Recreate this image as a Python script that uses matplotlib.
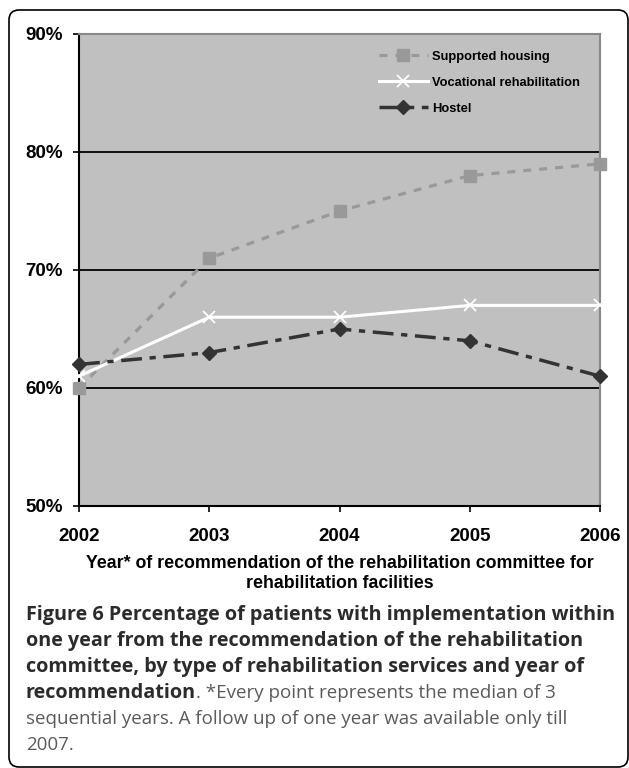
import matplotlib

matplotlib.use("Agg")
import matplotlib.pyplot as plt
from matplotlib.patches import FancyBboxPatch

# -----------------------------
# Data
# -----------------------------
years = [2002, 2003, 2004, 2005, 2006]
supported_housing = [60, 71, 75, 78, 79]
vocational_rehab = [61, 66, 66, 67, 67]
hostel = [62, 63, 65, 64, 61]
y_ticks = [50, 60, 70, 80, 90]
y_tick_labels = ["50%", "60%", "70%", "80%", "90%"]

x_label = ("Year* of recommendation of the rehabilitation committee for\n"
           "rehabilitation facilities")
caption_bold = [
    "Figure 6 Percentage of patients with implementation within",
    "one year from the recommendation of the rehabilitation",
    "committee, by type of rehabilitation services and year of",
]
caption_mixed = ("recommendation", ". *Every point represents the median of 3")
caption_plain = [
    "sequential years. A follow up of one year was available only till",
    "2007.",
]

W, H = 629, 768
fig = plt.figure(figsize=(W / 100, H / 100), dpi=100)
fig.patch.set_facecolor("white")

# -----------------------------
# Plot area
# -----------------------------
ax = fig.add_axes([79 / W, 1 - 506 / H, 521 / W, 472 / H])
ax.set_facecolor("#c0c0c0")

ax.plot(years, supported_housing, color="#999999", lw=2.3,
        ls=(0, (2.5, 2.5)), marker="s", ms=8, mec="#999999",
        label="Supported housing", clip_on=False, zorder=3)
ax.plot(years, vocational_rehab, color="white", lw=2.2, ls="-",
        marker="x", ms=8, mew=1.3, label="Vocational rehabilitation",
        clip_on=False, zorder=4)
ax.plot(years, hostel, color="#333333", lw=2.5, ls=(0, (6, 2.2, 1.8, 2.2)),
        marker="D", ms=7, label="Hostel", clip_on=False, zorder=5)

ax.set_xlim(years[0], years[-1])
ax.set_ylim(y_ticks[0], y_ticks[-1])
ax.set_xticks(years)
ax.set_xticklabels([str(y) for y in years])
ax.set_yticks(y_ticks)
ax.set_yticklabels(y_tick_labels)

ax.yaxis.grid(True, color="black", lw=1.3)
ax.set_axisbelow(True)
grid = ax.get_ygridlines()
grid[0].set_visible(False)
grid[-1].set_visible(False)

for side in ["left", "bottom"]:
    ax.spines[side].set_color("black")
    ax.spines[side].set_linewidth(1.5)
for side in ["top", "right"]:
    ax.spines[side].set_color("#888888")
    ax.spines[side].set_linewidth(1.5)

ax.tick_params(axis="both", direction="out", length=4.5, width=1.2,
               color="black")
ax.tick_params(axis="x", pad=11)
ax.tick_params(axis="y", pad=7)
for lab in ax.get_xticklabels():
    lab.set_fontfamily("Liberation Sans")
    lab.set_fontweight("bold")
    lab.set_fontsize(13.5)
for lab in ax.get_yticklabels():
    lab.set_fontfamily("Liberation Sans")
    lab.set_fontweight("bold")
    lab.set_fontsize(13.5)

ax.set_xlabel(x_label, fontfamily="Liberation Sans", fontweight="bold",
              fontsize=12.8, linespacing=1.22)
ax.xaxis.set_label_coords(0.5, -(555 - 506) / 472)

ax.legend(loc="upper left", bbox_to_anchor=(0.565, 0.975), frameon=False,
          prop={"family": "Liberation Sans", "weight": "bold", "size": 9.3},
          handlelength=3.8, handletextpad=0.35, labelspacing=1.08,
          borderaxespad=0)

# -----------------------------
# Rounded frame round the figure
# -----------------------------
frame = FancyBboxPatch((9, 1), 619, 757,
                       boxstyle="round,pad=0,rounding_size=10",
                       transform=None, fc="none", ec="black", lw=1.2)
fig.patches.append(frame)

# -----------------------------
# Caption
# -----------------------------
renderer = fig.canvas.get_renderer()
x0 = 26 / W

# fit caption sizes to the widths in the reference
probe = fig.text(0, 0, caption_bold[0], fontfamily="Open Sans",
                 fontweight="bold", fontsize=10)
bold_size = 10 * 590 / probe.get_window_extent(renderer).width
probe.remove()
probe = fig.text(0, 0, caption_plain[0], fontfamily="Open Sans", fontsize=10)
plain_size = 10 * 543 / probe.get_window_extent(renderer).width
probe.remove()

bold_kw = dict(fontfamily="Open Sans", fontweight="bold", fontsize=bold_size,
               color="#2b2b2b", va="baseline", ha="left")
plain_kw = dict(fontfamily="Open Sans", fontsize=plain_size,
                color="#5a5a5a", va="baseline", ha="left")

baselines = [620, 646, 672, 698, 724, 750]
for line, yb in zip(caption_bold, baselines[:3]):
    fig.text(x0, 1 - yb / H, line, **bold_kw)

t = fig.text(x0, 1 - baselines[3] / H, caption_mixed[0], **bold_kw)
x_end = t.get_window_extent(renderer).x1 / W
fig.text(x_end, 1 - baselines[3] / H, caption_mixed[1], **plain_kw)

for line, yb in zip(caption_plain, baselines[4:]):
    fig.text(x0, 1 - yb / H, line, **plain_kw)

fig.savefig("out.png", dpi=100)
plt.close(fig)
